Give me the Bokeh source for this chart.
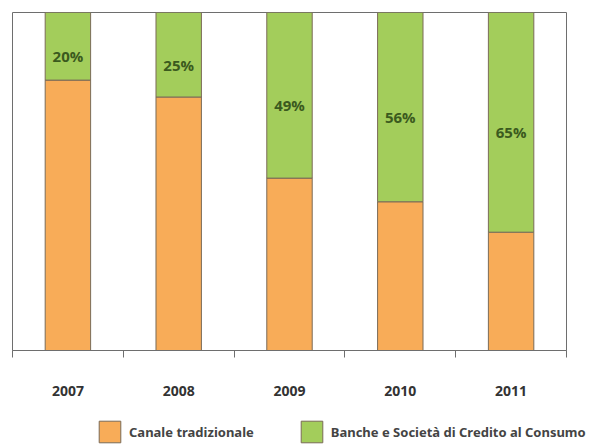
from bokeh.plotting import figure
from bokeh.layouts import column, row
from bokeh.models import Range1d, FixedTicker, Legend, LegendItem, ColumnDataSource
from bokeh.core.properties import value
from bokeh.embed import file_html
from bokeh.resources import INLINE

years = ["2007", "2008", "2009", "2010", "2011"]
banche = [20, 25, 49, 56, 65]
tradizionale = [80, 75, 51, 44, 35]
series_labels = ["Canale tradizionale", "Banche e Società di Credito al Consumo"]
series_keys = ["trad", "banche"]
colors = ["#F8AC58", "#A3CD5B"]
edge = "#7a6b58"

pos = [i + 0.5 for i in range(len(years))]
source = ColumnDataSource(dict(
    x=pos,
    trad=tradizionale,
    banche=banche,
    label_y=[t + b / 2 for t, b in zip(tradizionale, banche)],
    label=[f"{b}%" for b in banche],
))

p = figure(width=601, height=400, x_range=Range1d(0, len(years)), y_range=Range1d(0, 100),
           output_backend="svg", toolbar_location=None, y_axis_location=None,
           min_border_left=12, min_border_right=35, min_border_top=12, min_border_bottom=50)
p.grid.visible = False
p.outline_line_color = "#6e6e6e"
p.background_fill_color = "white"
p.border_fill_color = "white"

rs = p.vbar_stack(series_keys, x="x", width=0.41, source=source,
                  fill_color=colors, line_color=edge, line_width=1)

p.text(x="x", y="label_y", text="label", source=source,
       text_font=value("Open Sans"), text_font_style="bold", text_font_size="15px",
       text_color="#3b5a1e", text_align="center", text_baseline="middle", y_offset=10)

ax = p.xaxis[0]
ax.ticker = FixedTicker(ticks=pos, minor_ticks=list(range(len(years) + 1)))
ax.major_label_overrides = {x: y for x, y in zip(pos, years)}
ax.major_tick_line_color = None
ax.major_tick_out = 0
ax.major_tick_in = 0
ax.minor_tick_out = 7
ax.minor_tick_in = 0
ax.minor_tick_line_color = "#6e6e6e"
ax.axis_line_color = "#6e6e6e"
ax.major_label_standoff = 28
ax.major_label_text_font = "Noto Sans"
ax.major_label_text_font_style = "bold"
ax.major_label_text_font_size = "14px"
ax.major_label_text_color = "#333333"

# legend strip below the chart; its swatch renderers use the same data,
# kept outside this strip's visible y-range so that only the legend shows
p2 = figure(width=601, height=48, x_range=Range1d(0, len(years)), y_range=Range1d(200, 300),
            output_backend="svg", toolbar_location=None,
            x_axis_location=None, y_axis_location=None, min_border=0)
p2.grid.visible = False
p2.outline_line_color = None
p2.background_fill_color = "white"
p2.border_fill_color = "white"
swatches = [p2.vbar(x="x", top=k, width=0.41, source=source,
                    fill_color=c, line_color=edge) for k, c in zip(series_keys, colors)]

legend = Legend(items=[LegendItem(label=series_labels[i], renderers=[swatches[i]]) for i in range(2)],
                orientation="horizontal", location=(96, 3),
                glyph_width=27, glyph_height=27, label_standoff=6, spacing=44,
                padding=0, margin=0, border_line_color=None, background_fill_alpha=0,
                label_text_font="Noto Sans", label_text_font_style="bold",
                label_text_font_size="13px", label_text_color="#444444")
p2.add_layout(legend, "center")

layout = column(p, row(p2), spacing=0)
open("out.html", "w").write(file_html(layout, INLINE))
